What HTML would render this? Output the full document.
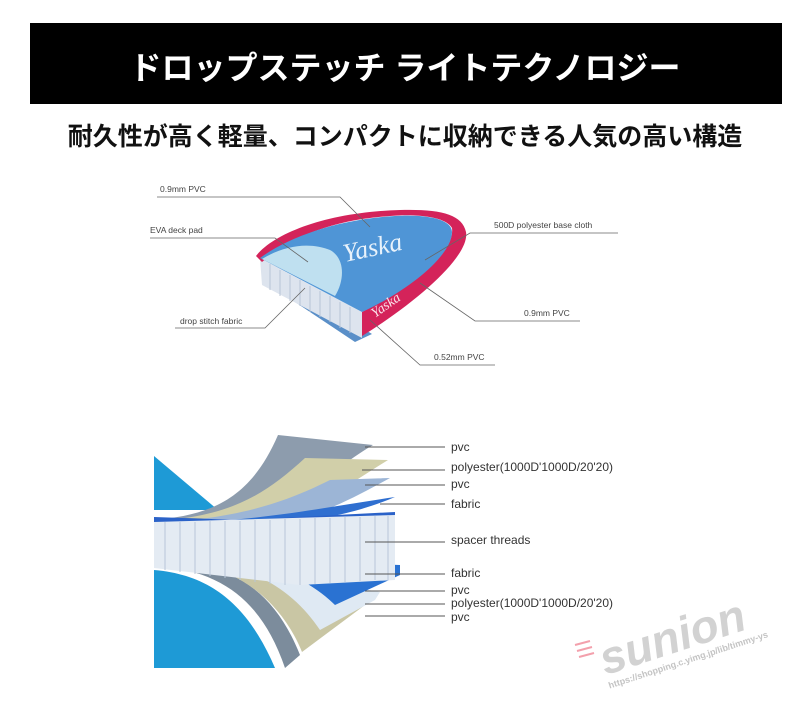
<!DOCTYPE html>
<html><head><meta charset="utf-8"><style>
html,body{margin:0;padding:0;background:#fff;}
body{width:810px;height:701px;position:relative;overflow:hidden;font-family:"Liberation Sans","Noto Sans CJK JP",sans-serif;}
.banner{position:absolute;left:30px;top:23px;width:752px;height:81px;background:#000;}
.t{position:absolute;white-space:nowrap;}
</style></head><body>
<div class="banner"></div>
<div class="t" style="left:0;width:810px;text-align:center;top:43px;color:#fff;font-size:32px;font-weight:bold;">ドロップステッチ ライトテクノロジー</div>
<div class="t" style="left:0;width:810px;text-align:center;top:117px;color:#111;font-size:25px;font-weight:bold;">耐久性が高く軽量、コンパクトに収納できる人気の高い構造</div>
<svg width="810" height="701" style="position:absolute;left:0;top:0" font-family="Liberation Sans, sans-serif">
<!-- top board -->
<polygon points="265,282 355,342 372,334 280,277" fill="#5a8fc8"/>
<polygon points="260,258 362,312 362,338 262,285" fill="#dde4ee"/>
<g stroke="#b8c4d6" stroke-width="1">
<line x1="270" y1="264" x2="270" y2="290"/><line x1="280" y1="270" x2="280" y2="296"/><line x1="290" y1="275" x2="290" y2="301"/><line x1="300" y1="280" x2="300" y2="306"/><line x1="310" y1="286" x2="310" y2="312"/><line x1="320" y1="291" x2="320" y2="317"/><line x1="330" y1="296" x2="330" y2="322"/><line x1="340" y1="302" x2="340" y2="328"/><line x1="350" y1="307" x2="350" y2="333"/></g>
<path d="M256,256 C275,232 330,212 400,210 C440,209 462,214 466,232 C470,255 420,300 362,336 L362,312 C420,282 455,250 452,228 C445,215 410,214 390,216 C330,220 290,238 262,262 Z" fill="#d4235a"/>
<path d="M260,258 C290,236 340,219 395,216 C430,214 452,220 452,232 C452,255 410,290 362,312 Z" fill="#4f95d6"/>
<path d="M262,259 C285,245 310,242 330,250 C345,258 345,280 335,296 Z" fill="#bfe0f0"/>
<text x="345" y="262" font-family="Liberation Serif, serif" font-style="italic" font-size="26" fill="#e8f2fb" transform="rotate(-12 345 262)">Yaska</text>
<text x="375" y="318" font-family="Liberation Serif, serif" font-style="italic" font-size="14" fill="#fbe3ea" transform="rotate(-35 375 318)">Yaska</text>
<g stroke="#666" stroke-width="0.8" fill="none">
<polyline points="157,197 340,197 370,227"/>
<polyline points="150,238 275,238 308,262"/>
<polyline points="618,233 470,233 425,260"/>
<polyline points="580,321 475,321 420,283"/>
<polyline points="175,328 265,328 305,288"/>
<polyline points="495,365 420,365 370,320"/>
</g>
<g font-size="8.5" fill="#444">
<text x="160" y="192">0.9mm PVC</text>
<text x="150" y="233">EVA  deck pad</text>
<text x="494" y="228">500D polyester base cloth</text>
<text x="524" y="316">0.9mm PVC</text>
<text x="180" y="324">drop stitch fabric</text>
<text x="434" y="360">0.52mm PVC</text>
</g>
<!-- bottom layers -->
<polygon points="154,456 218,510 154,510" fill="#1e9ad6"/>
<path d="M154,570 C215,575 250,610 275,668 L154,668 Z" fill="#1e9ad6"/>
<path d="M154,566 C230,570 265,610 285,668 L300,655 C280,605 250,575 200,565 Z" fill="#7c8c9c"/>
<path d="M200,565 C250,575 285,610 302,652 L365,605 L360,595 Z" fill="#c9c6a4"/>
<path d="M220,563 C270,575 300,600 320,630 L375,600 L380,592 Z" fill="#dfe9f3"/>
<path d="M250,560 C290,570 320,590 335,605 L400,575 L400,565 Z" fill="#2a72d2"/>
<path d="M154,520 C210,515 250,500 278,435 L373,445 C330,470 300,505 270,518 Z" fill="#8d9cad"/>
<path d="M185,518 C240,510 270,490 305,458 L388,460 C340,490 310,512 280,520 Z" fill="#d1cfa9"/>
<path d="M200,519 C260,512 300,495 330,480 L390,478 C350,500 320,515 290,520 Z" fill="#9cb5d6"/>
<path d="M230,520 C290,515 340,505 395,497 C360,512 320,520 290,522 Z" fill="#2f6fd0"/>
<polygon points="154,517 240,520 395,512 395,522 154,522" fill="#2b62c8"/>
<polygon points="154,522 395,515 395,580 300,585 154,568" fill="#e4ebf3"/>
<g stroke="#b8c6d8" stroke-width="1">
<line x1="165" y1="522" x2="165" y2="570"/><line x1="180" y1="522" x2="180" y2="572"/><line x1="195" y1="522" x2="195" y2="574"/><line x1="210" y1="521" x2="210" y2="576"/><line x1="225" y1="521" x2="225" y2="578"/><line x1="240" y1="521" x2="240" y2="580"/><line x1="255" y1="520" x2="255" y2="582"/><line x1="270" y1="520" x2="270" y2="584"/><line x1="285" y1="519" x2="285" y2="585"/><line x1="300" y1="519" x2="300" y2="585"/><line x1="315" y1="518" x2="315" y2="584"/><line x1="330" y1="518" x2="330" y2="583"/><line x1="345" y1="517" x2="345" y2="582"/><line x1="360" y1="517" x2="360" y2="581"/><line x1="375" y1="516" x2="375" y2="580"/><line x1="388" y1="516" x2="388" y2="580"/></g>
<g stroke="#555" stroke-width="1">
<line x1="365" y1="447" x2="445" y2="447"/>
<line x1="362" y1="470" x2="445" y2="470"/>
<line x1="365" y1="485" x2="445" y2="485"/>
<line x1="380" y1="504" x2="445" y2="504"/>
<line x1="365" y1="542" x2="445" y2="542"/>
<line x1="365" y1="574" x2="445" y2="574"/>
<line x1="365" y1="591" x2="445" y2="591"/>
<line x1="365" y1="604" x2="445" y2="604"/>
<line x1="365" y1="616" x2="445" y2="616"/>
</g>
<g font-size="12" fill="#333">
<text x="451" y="451">pvc</text>
<text x="451" y="471">polyester(1000D'1000D/20'20)</text>
<text x="451" y="488">pvc</text>
<text x="451" y="508">fabric</text>
<text x="451" y="544">spacer threads</text>
<text x="451" y="577">fabric</text>
<text x="451" y="594">pvc</text>
<text x="451" y="607">polyester(1000D'1000D/20'20)</text>
<text x="451" y="621">pvc</text>
</g>
<!-- watermark -->
<g transform="rotate(-18 680 630)">
<text x="595" y="650" font-size="46" font-weight="bold" font-style="italic" fill="#d2d2d2">sunion</text>
<text x="595" y="664" font-size="9" font-weight="bold" fill="#c4c4c4">https://shopping.c.yimg.jp/lib/timmy-ys</text>
</g>
<g stroke="#f3a0ac" stroke-width="2"><line x1="575" y1="645" x2="590" y2="641"/><line x1="577" y1="651" x2="592" y2="647"/><line x1="579" y1="657" x2="594" y2="653"/></g>
</svg>
</body></html>
